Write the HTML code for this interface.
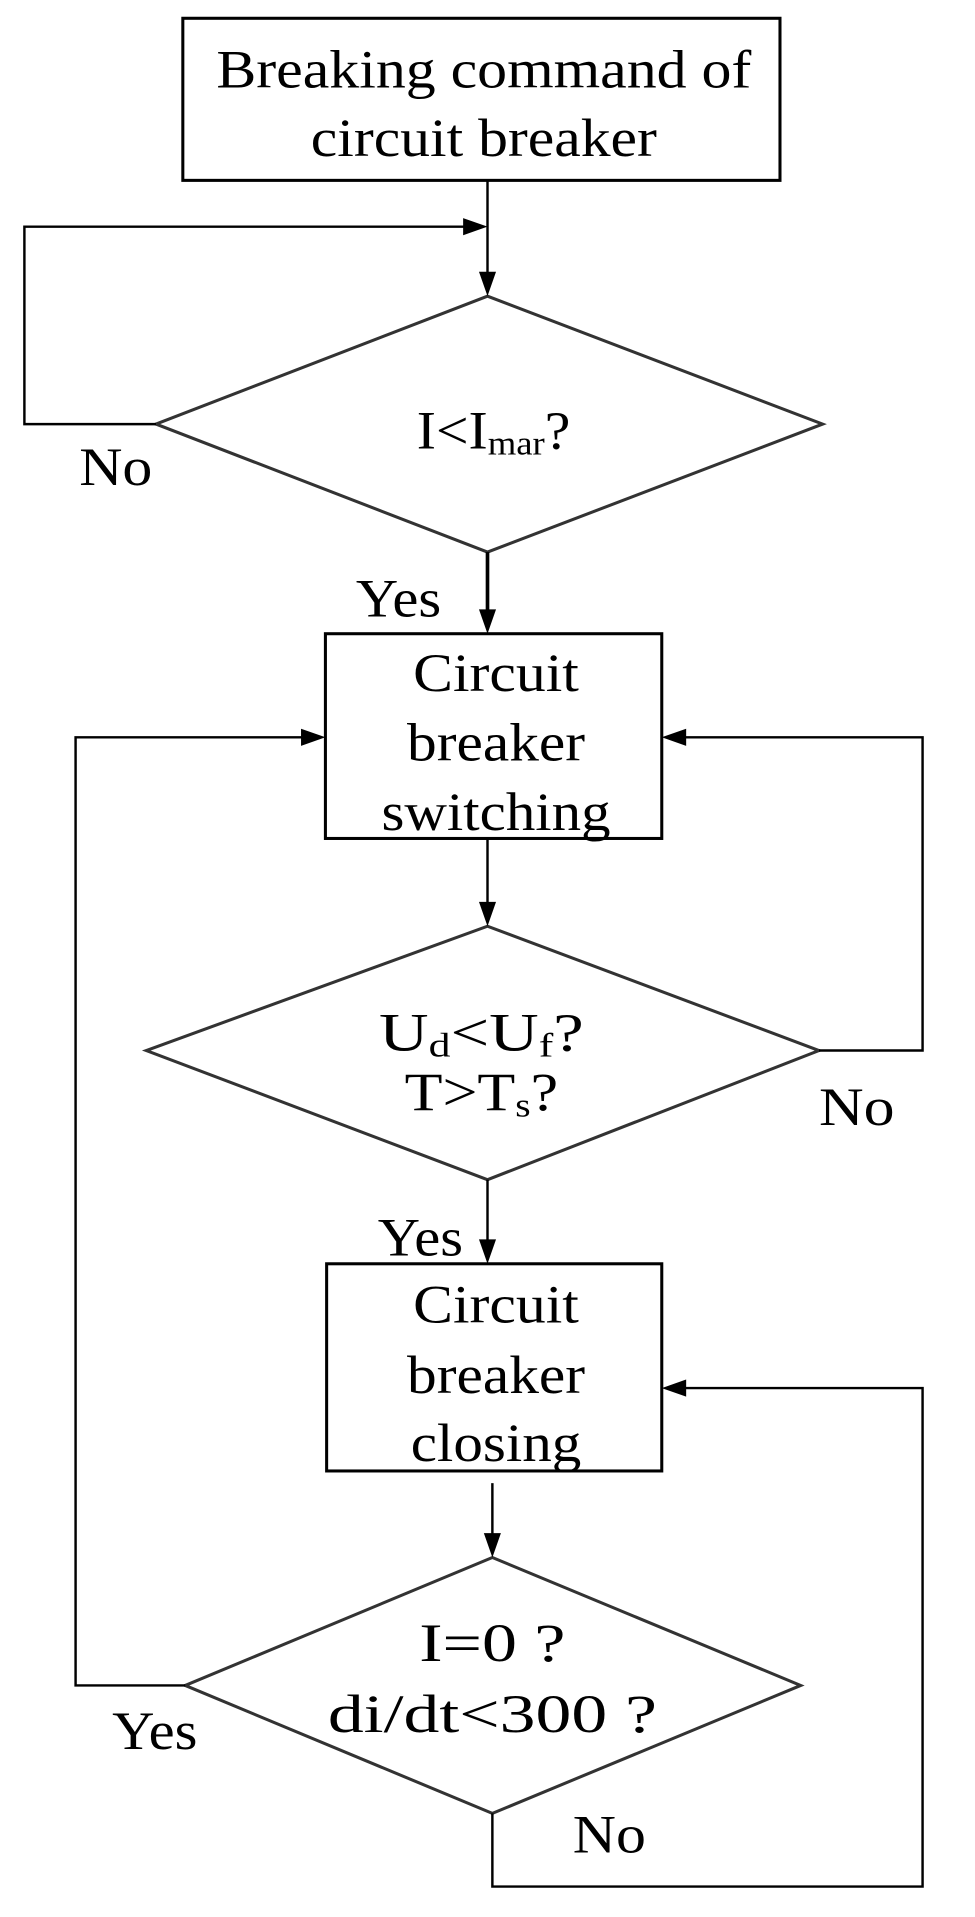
<!DOCTYPE html>
<html><head><meta charset="utf-8"><style>html,body{margin:0;padding:0;background:#fff}svg{display:block}</style></head>
<body>
<svg width="975" height="1917" viewBox="0 0 800 1573" xmlns="http://www.w3.org/2000/svg" font-family="Liberation Serif, serif" font-size="44" fill="#000">
<g fill="none" stroke="#000" stroke-width="2.5">
<rect x="150" y="15" width="490" height="133"/>
<rect x="267" y="520" width="276" height="168"/>
<rect x="268" y="1037" width="275" height="170"/>
</g>
<g fill="none" stroke="#333" stroke-width="2.5">
<polygon points="128,348 400,243 675,348 400,453"/>
<polygon points="120,862 400,760 672,862 400,968"/>
<polygon points="152,1383 404,1278 657,1383 404,1488"/>
</g>
<g fill="none" stroke="#000" stroke-width="2">
<line x1="400" y1="148" x2="400" y2="225"/>
<polyline points="128,348 20,348 20,186 382,186"/>
<line x1="400" y1="453" x2="400" y2="502" stroke-width="3"/>
<polyline points="152,1383 62,1383 62,605 249,605"/>
<polyline points="672,862 757,862 757,605 561,605"/>
<line x1="400" y1="688" x2="400" y2="742"/>
<line x1="400" y1="968" x2="400" y2="1019"/>
<line x1="404" y1="1217" x2="404" y2="1260"/>
<polyline points="404,1488 404,1548 757,1548 757,1139 561,1139"/>
</g>
<g fill="#000">
<polygon points="400,243 393,223 407,223"/>
<polygon points="400,186 380,179 380,193"/>
<polygon points="400,520 393,500 407,500"/>
<polygon points="267,605 247,598 247,612"/>
<polygon points="543,605 563,598 563,612"/>
<polygon points="400,760 393,740 407,740"/>
<polygon points="400,1037 393,1017 407,1017"/>
<polygon points="404,1278 397,1258 411,1258"/>
<polygon points="543,1139 563,1132 563,1146"/>
</g>
<g text-anchor="middle">
<text x="397" y="72" textLength="439" lengthAdjust="spacingAndGlyphs">Breaking command of</text>
<text x="397" y="128" textLength="284" lengthAdjust="spacingAndGlyphs">circuit breaker</text>
<text x="405" y="368" textLength="126" lengthAdjust="spacingAndGlyphs">I&lt;I<tspan font-size="28" dy="5">mar</tspan><tspan dy="-5">?</tspan></text>
<text x="407" y="567" textLength="136" lengthAdjust="spacingAndGlyphs">Circuit</text>
<text x="407" y="624" textLength="146" lengthAdjust="spacingAndGlyphs">breaker</text>
<text x="407" y="681" textLength="188" lengthAdjust="spacingAndGlyphs">switching</text>
<text x="395" y="862" textLength="168" lengthAdjust="spacingAndGlyphs">U<tspan font-size="28" dy="5">d</tspan><tspan dy="-5">&lt;U</tspan><tspan font-size="28" dy="5">f</tspan><tspan dy="-5">?</tspan></text>
<text x="395" y="911" textLength="126" lengthAdjust="spacingAndGlyphs">T&gt;T<tspan font-size="28" dy="5">s</tspan><tspan dy="-5">?</tspan></text>
<text x="407" y="1085" textLength="136" lengthAdjust="spacingAndGlyphs">Circuit</text>
<text x="407" y="1143" textLength="146" lengthAdjust="spacingAndGlyphs">breaker</text>
<text x="407" y="1199" textLength="140" lengthAdjust="spacingAndGlyphs">closing</text>
<text x="404" y="1363" textLength="120" lengthAdjust="spacingAndGlyphs">I=0 ?</text>
<text x="404" y="1421" textLength="270" lengthAdjust="spacingAndGlyphs">di/dt&lt;300 ?</text>
</g>
<text x="65" y="398" textLength="60" lengthAdjust="spacingAndGlyphs">No</text>
<text x="292" y="506" textLength="70" lengthAdjust="spacingAndGlyphs">Yes</text>
<text x="672" y="923" textLength="62" lengthAdjust="spacingAndGlyphs">No</text>
<text x="310" y="1030" textLength="70" lengthAdjust="spacingAndGlyphs">Yes</text>
<text x="92" y="1435" textLength="70" lengthAdjust="spacingAndGlyphs">Yes</text>
<text x="470" y="1520" textLength="60" lengthAdjust="spacingAndGlyphs">No</text>
</svg>
</body></html>
